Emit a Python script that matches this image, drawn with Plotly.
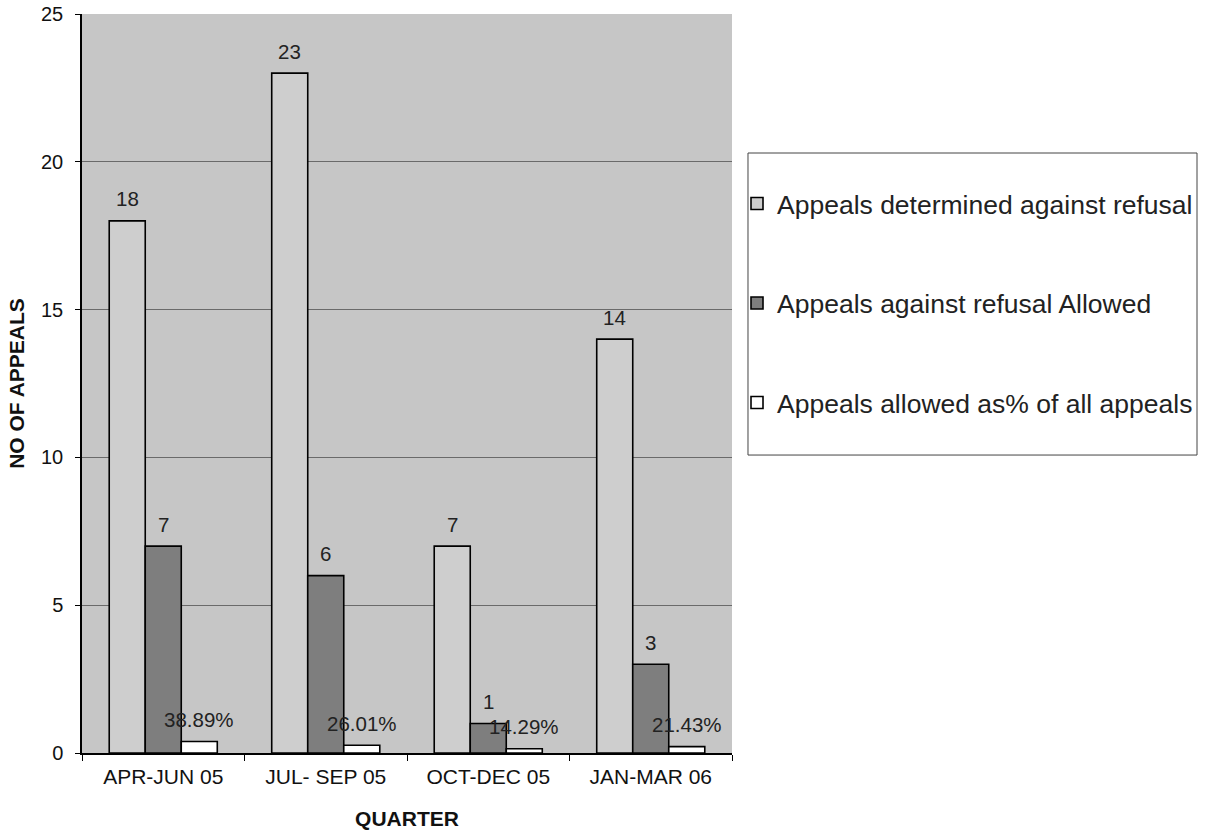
import plotly.graph_objects as go

quarters = ["APR-JUN 05", "JUL- SEP 05", "OCT-DEC 05", "JAN-MAR 06"]
determined = [18, 23, 7, 14]
allowed = [7, 6, 1, 3]
allowed_share = [0.3889, 0.2601, 0.1429, 0.2143]

series_names = [
    "Appeals determined against refusal",
    "Appeals against refusal Allowed",
    "Appeals allowed as% of all appeals",
]

FONT = "Liberation Sans, Arial, sans-serif"
INK = "#111111"

W, H = 1210, 834
M = dict(l=82, r=478, t=14, b=81)
BARGAP = 0.335

fig = go.Figure()
fills = ["#cecece", "#7e7e7e", "#ffffff"]
series = [determined, allowed, allowed_share]
for i, (name, vals, col) in enumerate(zip(series_names, series, fills)):
    fig.add_trace(go.Bar(
        x=quarters, y=vals, name=name, legendgroup=f"g{i}",
        marker=dict(color=col, line=dict(color="#000000", width=1.6)),
    ))

# value labels above each bar
plot_w = W - M["l"] - M["r"]
bar_w = plot_w / len(quarters) * (1 - BARGAP) / 3
label_text = [
    [str(v) for v in determined],
    [str(v) for v in allowed],
    [f"{v * 100:.2f}%" for v in allowed_share],
]
for i, vals in enumerate(series):
    for q, v, t in zip(quarters, vals, label_text[i]):
        fig.add_annotation(
            x=q, y=v, xref="x", yref="y", text=t, showarrow=False,
            xshift=(i - 1) * bar_w, yshift=22, yanchor="middle",
            font=dict(family=FONT, size=20.5, color="#222222"),
        )

# legend frame
fig.add_shape(
    type="rect", xref="paper", yref="paper",
    x0=1.0246, x1=1.7154, y0=0.4032, y1=0.8119,
    line=dict(color="#444444", width=1), fillcolor="rgba(0,0,0,0)",
)

fig.update_layout(
    width=W, height=H, margin=M,
    barmode="group", bargap=BARGAP, bargroupgap=0,
    paper_bgcolor="#ffffff", plot_bgcolor="#c6c6c6",
    font=dict(family=FONT, color=INK),
    showlegend=True,
    legend=dict(
        x=1.0077, y=0.7756, xanchor="left", yanchor="top",
        font=dict(family=FONT, size=26.5, color="#222222"),
        bgcolor="rgba(0,0,0,0)", borderwidth=0,
        tracegroupgap=62, traceorder="grouped",
    ),
    xaxis=dict(
        automargin=False,
        tickson="boundaries", ticks="outside", ticklen=6, tickcolor="#000000",
        showline=True, linecolor="#000000", linewidth=1.5,
        tickfont=dict(family=FONT, size=21, color=INK),
        ticklabelstandoff=4,
        title=dict(text="<b>QUARTER</b>", standoff=24,
                   font=dict(family=FONT, size=21, color=INK)),
    ),
    yaxis=dict(
        automargin=False,
        range=[0, 25], tickvals=[0, 5, 10, 15, 20, 25],
        ticks="outside", ticklen=5, tickcolor="#000000",
        showline=True, linecolor="#000000", linewidth=1.5,
        showgrid=True, gridcolor="#6a6a6a", gridwidth=1,
        zeroline=False,
        tickfont=dict(family=FONT, size=20, color=INK),
        ticklabelstandoff=8,
        title=dict(text="<b>NO OF APPEALS</b>", standoff=11,
                   font=dict(family=FONT, size=21, color=INK)),
    ),
)

fig.write_html("out.html")
